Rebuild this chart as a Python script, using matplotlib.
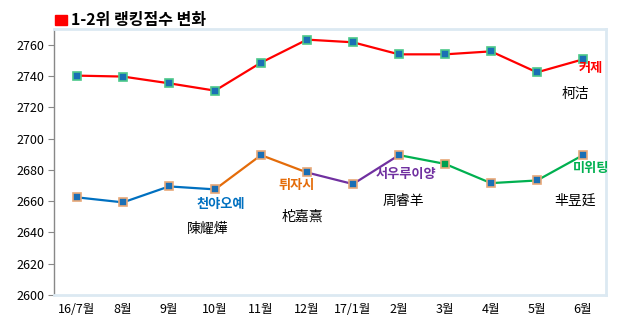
import matplotlib
matplotlib.use("Agg")
import matplotlib.pyplot as plt
from matplotlib.patches import Rectangle

plt.rcParams['font.family'] = ['Noto Sans CJK KR', 'DejaVu Sans']

months = ['16/7월', '8월', '9월', '10월', '11월', '12월', '17/1월', '2월', '3월', '4월', '5월', '6월']
first = [2740.2, 2739.6, 2735.3, 2730.6, 2748.5, 2763.2, 2761.5, 2753.8, 2753.8, 2755.7, 2742.3, 2750.6]
second = [2662.4, 2659.2, 2669.4, 2667.5, 2689.4, 2678.3, 2670.9, 2689.4, 2683.8, 2671.5, 2673.2, 2689.4]

# which segments of the 2nd-place line belong to whom: (start, end, colour)
segments = [(0, 3, '#0070c0'), (3, 5, '#e46c0a'), (5, 7, '#7030a0'), (7, 11, '#00b050')]

# name labels: korean (coloured, bold) then chinese (black)
labels = [
    ('커제', 11.17, 2745, '#ff0000', True),
    ('柯洁', 10.83, 2728.3, '#000000', False),
    ('천야오예', 3.12, 2658.2, '#0070c0', True),
    ('陳耀燁', 2.84, 2642, '#000000', False),
    ('튀자시', 4.77, 2670, '#e46c0a', True),
    ('柁嘉熹', 4.91, 2650, '#000000', False),
    ('서우루이양', 7.16, 2677.4, '#7030a0', True),
    ('周睿羊', 7.1, 2660, '#000000', False),
    ('미위팅', 11.18, 2681.3, '#00b050', True),
    ('芈昱廷', 10.82, 2660.3, '#000000', False),
]

fig = plt.figure(figsize=(6.26, 3.28), dpi=100)
ax = fig.add_axes([0.0863, 0.1006, 0.8817, 0.811])
x = list(range(len(months)))

ax.plot(x, first, color='#ff0000', lw=1.6, zorder=2)
ax.plot(x, first, ls='none', marker='s', ms=6, mfc='#1a6fb5', mec='#4cc88a', mew=1.2, zorder=3)

for s, e, c in segments:
    ax.plot(x[s:e + 1], second[s:e + 1], color=c, lw=1.6, zorder=2)
for i in x:
    fc = '#00a050' if i == 8 else '#1a6fb5'
    ax.plot(i, second[i], ls='none', marker='s', ms=6, mfc=fc, mec='#e8a878', mew=1.2, zorder=3)

for txt, lx, ly, c, b in labels:
    ax.text(lx, ly, txt, color=c, fontsize=9.5 if b else 10, fontweight='bold' if b else 'normal',
            ha='center', va='center', zorder=4)

ax.set_xlim(-0.5, 11.5)
ax.set_ylim(2600, 2770)
ax.set_yticks(range(2600, 2761, 20))
ax.set_xticks(x)
ax.set_xticklabels(months)
ax.tick_params(axis='x', length=0, labelsize=9, pad=6)
ax.tick_params(axis='y', length=4, color='#888888', labelsize=9, pad=3)

for side in ['top', 'right', 'bottom']:
    ax.spines[side].set_color('#dce9f2')
    ax.spines[side].set_linewidth(2)
ax.spines['left'].set_color('#888888')
ax.spines['left'].set_linewidth(1)

fig.patches.append(Rectangle((0.0879, 0.924), 0.019, 0.0305, transform=fig.transFigure,
                             color='#ff0000'))
fig.text(0.114, 0.939, '1-2위 랭킹점수 변화', fontsize=11.5, fontweight='bold', va='center', ha='left')

fig.savefig('out.png', dpi=100)
